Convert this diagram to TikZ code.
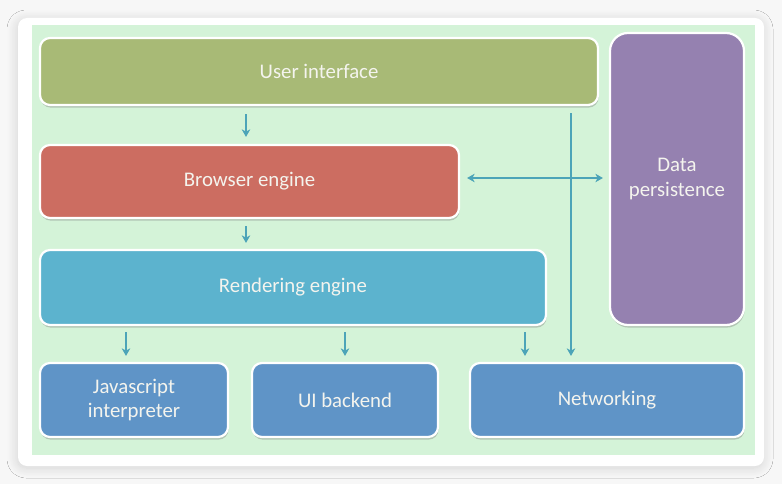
\documentclass[tikz,border=0pt]{standalone}
\usepackage{fontspec}
\setmainfont{Carlito}
\usetikzlibrary{arrows.meta,shadows,shadows.blur,calc}
\definecolor{pagebg}{HTML}{F7F7F7}
\definecolor{panelbg}{HTML}{D4F3D8}
\definecolor{uicol}{HTML}{A8BA76}
\definecolor{becol}{HTML}{CC6D61}
\definecolor{recol}{HTML}{5CB3CE}
\definecolor{dpcol}{HTML}{9581B0}
\definecolor{lowcol}{HTML}{5F94C7}
\definecolor{arrcol}{HTML}{4CA4B8}
\definecolor{txtcol}{HTML}{F4F4EE}
\tikzset{
  layer/.style={draw=white, line width=2.2pt, rounded corners=10pt, inner sep=0pt,
    text=txtcol, align=center, font=\fontsize{20.8}{24.5}\selectfont,
    drop shadow={shadow xshift=0.6pt, shadow yshift=-2.6pt, opacity=0.35, fill=black!55}},
  arr/.style={draw=arrcol, line width=2pt, -{Stealth[length=7.5pt,width=8.5pt,inset=2.2pt]}},
  darr/.style={draw=arrcol, line width=2pt, {Stealth[length=7.5pt,width=8.5pt,inset=2.2pt]}-{Stealth[length=7.5pt,width=8.5pt,inset=2.2pt]}}
}
\begin{document}
\begin{tikzpicture}[x=1pt,y=-1pt]
\useasboundingbox (0,0) rectangle (782,484);
\fill[pagebg] (0,0) rectangle (782,484);
\path[fill=white, rounded corners=9pt, blur shadow={shadow xshift=-1pt, shadow yshift=-2pt, shadow blur steps=14, shadow blur radius=10pt, shadow opacity=14}] (18,18) rectangle (764,466);
\fill[panelbg] (32,25) rectangle (755,455);

\node[layer, fill=uicol, minimum width=558pt, minimum height=67pt] (ui) at (319,71.5) {User interface};
\node[layer, fill=becol, minimum width=419pt, minimum height=73pt] (be) at (249.5,181.5) {Browser engine};
\node[layer, fill=recol, minimum width=506pt, minimum height=75pt] (re) at (293,287.5) {Rendering engine};
\node[layer, fill=dpcol, minimum width=134pt, minimum height=292pt, rounded corners=18pt] (dp) at (677,179) {Data\\persistence};
\node[layer, fill=lowcol, minimum width=188pt, minimum height=74pt] (js) at (134,400) {Javascript\\interpreter};
\node[layer, fill=lowcol, minimum width=186pt, minimum height=74pt] (uib) at (345,400) {UI backend};
\node[layer, fill=lowcol, minimum width=274pt, minimum height=74pt] (net) at (607,400) {Networking};

\draw[arr, shorten <=8pt, shorten >=7pt] (246,0 |- ui.south) -- (246,0 |- be.north);
\draw[arr, shorten <=7pt, shorten >=6pt] (246,0 |- be.south) -- (246,0 |- re.north);
\draw[arr, shorten <=6pt, shorten >=6pt] (126,0 |- re.south) -- (126,0 |- js.north);
\draw[arr, shorten <=6pt, shorten >=6pt] (345,0 |- re.south) -- (345,0 |- uib.north);
\draw[arr, shorten <=6pt, shorten >=6pt] (525,0 |- re.south) -- (525,0 |- net.north);
\draw[arr, shorten <=7pt, shorten >=6pt] (571,0 |- ui.south) -- (571,0 |- net.north);
\draw[darr, shorten <=7pt, shorten >=6pt] (be.east |- 0,178) -- (dp.west |- 0,178);
\end{tikzpicture}
\end{document}
